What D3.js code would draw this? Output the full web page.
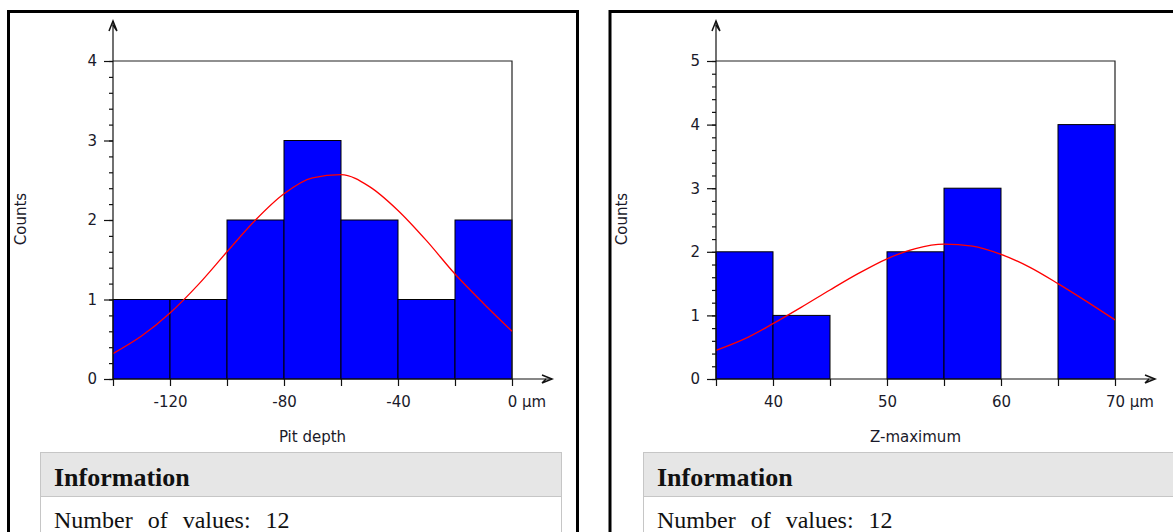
<!DOCTYPE html>
<html>
<head>
<meta charset="utf-8">
<script src="https://cdn.jsdelivr.net/npm/d3@7"></script>
<style>
  body { margin: 0; background: #fff; }
  svg { display: block; }
  .tick text { font-family: "DejaVu Sans", sans-serif; font-size: 15px; fill: #1a1a2a; }
</style>
</head>
<body>
<div id="chart"></div>
<script>
// pit depth histogram
const pitEdges = [-140, -120, -100, -80, -60, -40, -20, 0];
const pitCounts = [1, 1, 2, 3, 2, 1, 2];
const pitLabels = [-120, -80, -40, 0];
const pitCurveX = [-140, -130, -120, -110, -100, -90, -80, -70, -60, -50, -40, -30, -20, -10, 0];
const pitCurveY = [0.32, 0.54, 0.83, 1.19, 1.60, 2.00, 2.33, 2.53, 2.57, 2.42, 2.12, 1.74, 1.32, 0.95, 0.60];

// z-maximum histogram
const zEdges = [35, 40, 45, 50, 55, 60, 65, 70];
const zCounts = [2, 1, 0, 2, 3, 0, 4];
const zLabels = [40, 50, 60, 70];
const zCurveX = [35, 37.5, 40, 42.5, 45, 47.5, 50, 52.5, 55, 57.5, 60, 62.5, 65, 67.5, 70];
const zCurveY = [0.45, 0.63, 0.87, 1.13, 1.40, 1.66, 1.89, 2.05, 2.12, 2.09, 1.96, 1.76, 1.50, 1.22, 0.93];

const infoCount = 12;

const width = 1173;
const height = 532;

const svg = d3.select("#chart")
    .append("svg")
    .attr("width", width)
    .attr("height", height);

const drawPanel = (opt) => {
  const g = svg.append("g");

  // panel border
  g.append("rect")
      .attr("x", opt.boxX).attr("y", 11.5)
      .attr("width", opt.boxW).attr("height", 540)
      .attr("fill", "none").attr("stroke", "#000").attr("stroke-width", 3);

  const x = d3.scaleLinear()
      .domain([opt.edges[0], opt.edges[opt.edges.length - 1]])
      .range([opt.left, opt.left + 399]);

  const y = d3.scaleLinear()
      .domain([0, opt.yMax])
      .range([379, 61]);

  const bins = opt.counts.map((c, i) => ({ x0: opt.edges[i], x1: opt.edges[i + 1], count: c }))
      .filter(d => d.count > 0);

  // bars
  g.append("g")
      .selectAll("rect")
      .data(bins)
      .join("rect")
      .attr("x", d => x(d.x0))
      .attr("y", d => y(d.count))
      .attr("width", d => x(d.x1) - x(d.x0))
      .attr("height", d => y(0) - y(d.count))
      .attr("fill", "#0000ff")
      .attr("stroke", "#000")
      .attr("stroke-width", 1);

  // top/right frame
  const x0 = x.range()[0], x1 = x.range()[1];
  g.append("path")
      .attr("d", `M${x0},${y(opt.yMax)}H${x1}V${y(0)}`)
      .attr("fill", "none").attr("stroke", "#222").attr("stroke-width", 1.2);

  // normal curve
  const line = d3.line()
      .x((d, i) => x(opt.curveX[i]))
      .y(d => y(d))
      .curve(d3.curveMonotoneX);
  g.append("path")
      .datum(opt.curveY)
      .attr("d", line)
      .attr("fill", "none").attr("stroke", "#ff0000").attr("stroke-width", 1.3);

  // x axis
  const xAxis = g.append("g")
      .attr("transform", `translate(0,${y(0)})`)
      .call(d3.axisBottom(x)
          .tickValues(opt.edges)
          .tickSize(7)
          .tickPadding(7)
          .tickFormat(d => opt.labels.includes(d) ? d : ""));
  xAxis.select(".domain").remove();
  xAxis.selectAll(".tick line").attr("stroke", "#111").attr("stroke-width", 1.2);
  xAxis.selectAll(".tick text").attr("dy", "0.9em").filter(d => d === opt.labels[opt.labels.length - 1])
      .each(function () {
        const t = d3.select(this);
        const w = this.getComputedTextLength();
        t.attr("text-anchor", "start").attr("x", -w / 2);
        t.append("tspan").text(" µm");
      });

  g.append("path")
      .attr("d", `M${x0},${y(0)}H${x1 + 40}`)
      .attr("stroke", "#111").attr("stroke-width", 1.2);
  g.append("path")
      .attr("d", `M${x1 + 30},${y(0) - 4}L${x1 + 40},${y(0)}L${x1 + 30},${y(0) + 4}M${x1 + 34},${y(0)}L${x1 + 30},${y(0) + 4}`)
      .attr("fill", "none").attr("stroke", "#111").attr("stroke-width", 1.5);

  // y axis, major and minor ticks
  const yMinor = d3.range(0, opt.yMax * 5 + 1).map(v => v / 5);
  const yMinorAxis = g.append("g")
      .attr("transform", `translate(${x0},0)`)
      .call(d3.axisLeft(y).tickValues(yMinor).tickSize(4).tickFormat(""));
  yMinorAxis.select(".domain").remove();
  yMinorAxis.selectAll(".tick line").attr("stroke", "#111").attr("stroke-width", 1.2);

  const yAxis = g.append("g")
      .attr("transform", `translate(${x0},0)`)
      .call(d3.axisLeft(y).tickValues(d3.range(0, opt.yMax + 1)).tickSize(9).tickPadding(7).tickFormat(d3.format("d")));
  yAxis.select(".domain").remove();
  yAxis.selectAll(".tick line").attr("stroke", "#111").attr("stroke-width", 1.2);

  g.append("path")
      .attr("d", `M${x0},${y(0)}V21`)
      .attr("stroke", "#111").attr("stroke-width", 1.2);
  g.append("path")
      .attr("d", `M${x0 - 4},31L${x0},21L${x0 + 4},31M${x0},25L${x0 + 4},31`)
      .attr("fill", "none").attr("stroke", "#111").attr("stroke-width", 1.5);

  // axis titles
  g.append("text")
      .attr("transform", `translate(${opt.boxX + 17},219) rotate(-90)`)
      .attr("text-anchor", "middle")
      .style("font-family", "DejaVu Sans, sans-serif").style("font-size", "15px")
      .attr("fill", "#1a1a2a")
      .text("Counts");

  g.append("text")
      .attr("x", (x0 + x1) / 2).attr("y", 442)
      .attr("text-anchor", "middle")
      .style("font-family", "DejaVu Sans, sans-serif").style("font-size", "15px")
      .attr("fill", "#1a1a2a")
      .text(opt.title);

  // information table
  g.append("rect")
      .attr("x", opt.infoX + 0.5).attr("y", 452.5)
      .attr("width", opt.infoW).attr("height", 44)
      .attr("fill", "#e6e6e6").attr("stroke", "#c6c6c6");
  g.append("rect")
      .attr("x", opt.infoX + 0.5).attr("y", 496.5)
      .attr("width", opt.infoW).attr("height", 50)
      .attr("fill", "#fff").attr("stroke", "#c6c6c6");
  g.append("text")
      .attr("x", opt.infoX + 14).attr("y", 486)
      .style("font-family", "Liberation Serif, serif").style("font-size", "26px").style("font-weight", "bold")
      .attr("fill", "#111")
      .text("Information");
  g.append("text")
      .attr("x", opt.infoX + 14).attr("y", 528)
      .style("font-family", "Liberation Serif, serif").style("font-size", "24px").style("word-spacing", "9px")
      .attr("fill", "#111")
      .text("Number of values: " + infoCount);
};

drawPanel({
  boxX: 8.5, boxW: 569,
  left: 113, yMax: 4,
  edges: pitEdges, counts: pitCounts, labels: pitLabels,
  curveX: pitCurveX, curveY: pitCurveY,
  title: "Pit depth",
  infoX: 40, infoW: 521
});

drawPanel({
  boxX: 610, boxW: 600,
  left: 716, yMax: 5,
  edges: zEdges, counts: zCounts, labels: zLabels,
  curveX: zCurveX, curveY: zCurveY,
  title: "Z-maximum",
  infoX: 643, infoW: 560
});
</script>
</body>
</html>
